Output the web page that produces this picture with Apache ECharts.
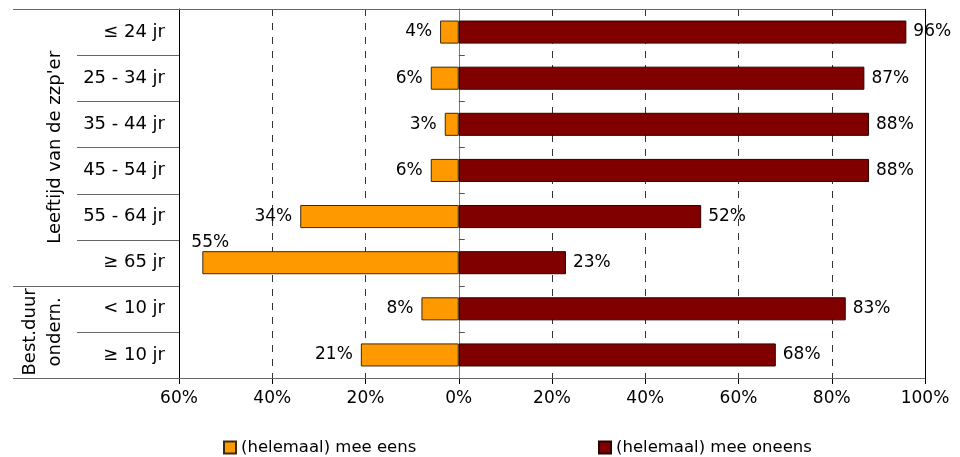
<!DOCTYPE html>
<html>
<head>
<meta charset="utf-8">
<script src="https://cdn.jsdelivr.net/npm/echarts@6/dist/echarts.min.js"></script>
<style>html,body{margin:0;padding:0;background:#fff;}#c{width:960px;height:457px;}</style>
</head>
<body>
<div id="c"></div>
<script>
const categories = ['\u2264 24 jr', '25 - 34 jr', '35 - 44 jr', '45 - 54 jr', '55 - 64 jr', '\u2265 65 jr', '< 10 jr', '\u2265 10 jr'];
const meeEens = [4, 6, 3, 6, 34, 55, 8, 21];
const meeOneens = [96, 87, 88, 88, 52, 23, 83, 68];
const xTicks = [-60, -40, -20, 0, 20, 40, 60, 80, 100];
const groups = [
  { label: "Leeftijd van de zzp'er", from: 0, to: 5 },
  { label: 'Best.duur\nondern.', from: 6, to: 7 }
];
const seriesNames = ['(helemaal) mee eens', '(helemaal) mee oneens'];

const FONT = 'DejaVu Sans';
const chart = echarts.init(document.getElementById('c'), null, { renderer: 'canvas' });

const eensData = meeEens.map(v => {
  const d = { value: -v };
  if (v > 50) {
    d.label = { position: [-11, -9], align: 'left', verticalAlign: 'middle' };
  }
  return d;
});

chart.setOption({
  animation: false,
  textStyle: { fontFamily: FONT },
  grid: { left: 179, right: 35, top: 9, bottom: 79, containLabel: false },
  legend: [
    { data: [seriesNames[0]], left: 223, top: 439, itemWidth: 12, itemHeight: 12, itemGap: 4,
      textStyle: { fontSize: 16.5, color: '#000', fontFamily: FONT }, icon: 'rect', padding: 0 },
    { data: [seriesNames[1]], left: 598, top: 439, itemWidth: 12, itemHeight: 12, itemGap: 4,
      textStyle: { fontSize: 16.5, color: '#000', fontFamily: FONT }, icon: 'rect', padding: 0 }
  ],
  xAxis: {
    type: 'value', min: -60, max: 100, interval: 20,
    axisLine: { show: true, lineStyle: { color: '#000', width: 1 } },
    axisTick: { show: true, length: 6, lineStyle: { color: '#000' } },
    axisLabel: { fontSize: 17, color: '#000', margin: 12, fontFamily: FONT,
      formatter: v => Math.abs(v) + '%' },
    splitLine: { show: true, lineStyle: { color: '#333', type: [7, 7], width: 1 } }
  },
  yAxis: [
    {
      type: 'category', data: categories, inverse: true, position: 'left',
      axisLine: { show: true, onZero: false, lineStyle: { color: '#000' } },
      axisTick: { show: false },
      axisLabel: { fontSize: 18, color: '#000', margin: 14, fontFamily: FONT },
      splitLine: { show: false }
    },
    {
      type: 'category', data: categories, inverse: true, position: 'left',
      axisLine: { show: true, onZero: true, lineStyle: { color: '#777' } },
      axisTick: { show: true, inside: true, length: 6, lineStyle: { color: '#555', width: 1 } },
      axisLabel: { show: false },
      splitLine: { show: false }
    }
  ],
  series: [
    {
      name: seriesNames[0], type: 'bar', stack: 'tot', yAxisIndex: 0, barWidth: '50%',
      data: eensData,
      itemStyle: { color: '#FF9900', borderColor: '#3a2a10', borderWidth: 1 },
      label: { show: true, position: 'left', distance: 8, fontSize: 17, color: '#000', fontFamily: FONT,
        formatter: p => Math.abs(p.value) + '%' }
    },
    {
      name: seriesNames[1], type: 'bar', stack: 'tot', yAxisIndex: 0, barWidth: '50%',
      data: meeOneens,
      itemStyle: { color: '#800000', borderColor: '#2a0000', borderWidth: 1 },
      label: { show: true, position: 'right', distance: 7, fontSize: 17, color: '#000', fontFamily: FONT,
        formatter: p => p.value + '%' }
    }
  ]
});

// Structural decorations: label-area separators, borders and group labels
const c0 = chart.convertToPixel({ yAxisIndex: 0 }, categories[0]);
const c1 = chart.convertToPixel({ yAxisIndex: 0 }, categories[1]);
const step = c1 - c0;
const topY = c0 - step / 2;
const boundary = i => topY + i * step;
const leftX = chart.convertToPixel({ xAxisIndex: 0 }, xTicks[0]);
const rightX = chart.convertToPixel({ xAxisIndex: 0 }, xTicks[xTicks.length - 1]);
const outerX = 13, innerX = 77;
const groupStarts = new Set();
groups.forEach(g => { groupStarts.add(g.from); groupStarts.add(g.to + 1); });

const elements = [];
const lineStyle = { stroke: '#666', lineWidth: 1 };
for (let i = 0; i <= categories.length; i++) {
  const y = Math.round(boundary(i)) + 0.5;
  let x1 = groupStarts.has(i) ? outerX : innerX;
  let x2 = (i === 0 || i === categories.length) ? rightX : leftX;
  elements.push({ type: 'line', shape: { x1: x1, y1: y, x2: x2, y2: y }, style: lineStyle, silent: true, z: 10 });
}
elements.push({ type: 'line', shape: { x1: Math.round(rightX) + 0.5, y1: boundary(0), x2: Math.round(rightX) + 0.5, y2: boundary(categories.length) },
  style: { stroke: '#000', lineWidth: 1 }, silent: true, z: 10 });
groups.forEach(g => {
  const cy = (boundary(g.from) + boundary(g.to + 1)) / 2;
  const multi = g.label.indexOf('\n') >= 0;
  elements.push({
    type: 'text', x: multi ? 43 : 55, y: cy, rotation: Math.PI / 2, silent: true,
    style: { text: g.label, fontSize: 18, fontFamily: FONT, fill: '#000', align: 'center', verticalAlign: 'middle', lineHeight: 25 }
  });
});
chart.setOption({ graphic: { elements: elements } });
</script>
</body>
</html>
